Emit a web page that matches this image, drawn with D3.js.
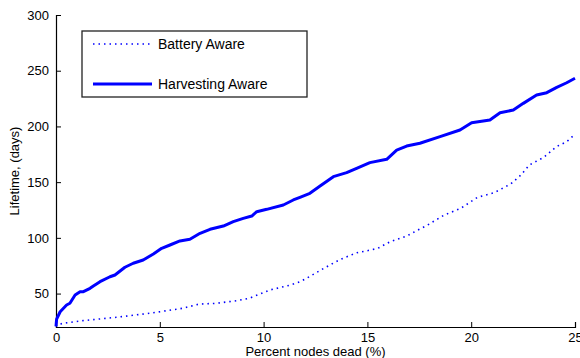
<!DOCTYPE html>
<html>
<head>
<meta charset="utf-8">
<script src="https://cdn.jsdelivr.net/npm/d3@7"></script>
<style>
  body { margin: 0; background: #fff; }
  text { font-family: "Liberation Sans", Arial, sans-serif; fill: #000; }
</style>
</head>
<body>
<script>
// percent nodes dead vs lifetime (days)
var harvestX = [0, 0.03, 0.2, 0.51, 0.67, 0.92, 1.16, 1.32, 1.64, 1.8, 2.12, 2.6, 2.84, 3.32, 3.72, 4.2, 4.69, 5.09, 5.49, 5.97, 6.45, 6.94, 7.42, 8.06, 8.54, 9.02, 9.43, 9.67, 10.15, 10.95, 11.43, 11.75, 12.23, 12.72, 13.36, 14.0, 14.48, 15.12, 15.93, 16.41, 16.89, 17.53, 18.5, 19.46, 20.02, 20.9, 21.39, 22.03, 22.51, 23.15, 23.64, 24.12, 24.6, 25.0];
var harvestY = [20.5, 27, 33.7, 39.7, 41.3, 48.7, 51.7, 51.7, 54.7, 56.8, 60.7, 65.1, 66.7, 73.6, 77.2, 80.1, 85.5, 90.6, 93.6, 97.2, 98.7, 104.1, 107.7, 110.6, 114.5, 117.5, 119.6, 123.5, 125.6, 129.5, 134, 136.4, 140, 146.5, 154.9, 158.5, 162.4, 167.5, 170.5, 178.8, 182.4, 184.9, 190.8, 196.8, 203.3, 205.8, 212.3, 214.7, 220.7, 228.2, 230.3, 235.1, 239.2, 243.2];

var batteryX = [0, 0.05, 0.4, 1.3, 2.9, 4.5, 6.1, 6.9, 7.7, 8.7, 9.3, 10.3, 11.3, 11.8, 12.2, 12.9, 13.7, 14.5, 15.0, 15.5, 16.1, 16.9, 17.5, 17.9, 18.7, 19.5, 20.3, 21.1, 21.9, 22.4, 22.8, 23.5, 24.1, 24.6, 24.9, 25.0];
var batteryY = [20.5, 22, 23.5, 25.7, 28.7, 32.3, 36.8, 40.6, 41.2, 43.6, 45.7, 53.2, 57.7, 61, 65.1, 72.7, 80.7, 86.7, 88.5, 90.6, 96.6, 101.7, 107.7, 111.5, 120.5, 126.5, 136.4, 140.5, 148.3, 156.4, 165.4, 172.3, 181.8, 186.3, 191.4, 192];

var xTicks = [0, 5, 10, 15, 20, 25];
var yTicks = [50, 100, 150, 200, 250, 300];
var seriesNames = ["Battery Aware", "Harvesting Aware"];

var width = 580, height = 358;
var margin = { top: 15, right: 5, bottom: 31, left: 56 };
var w = width - margin.left - margin.right;
var h = height - margin.top - margin.bottom;

var svg = d3.select("body").append("svg")
    .attr("width", width)
    .attr("height", height);

var g = svg.append("g")
    .attr("transform", "translate(" + margin.left + "," + margin.top + ")");

var x = d3.scaleLinear().domain([0, 25]).range([0, w]);
var y = d3.scaleLinear().domain([20, 300]).range([h, 0]);

// axes, matlab style ticks pointing inward
var xAxis = d3.axisBottom(x).tickValues(xTicks).tickSize(-5).tickPadding(6);
var yAxis = d3.axisLeft(y).tickValues(yTicks).tickSize(-5).tickPadding(7);

var gx = g.append("g")
    .attr("transform", "translate(0," + h + ")")
    .call(xAxis);
var gy = g.append("g").call(yAxis);

[gx, gy].forEach(function (a) {
    a.select(".domain").attr("stroke", "#000").attr("stroke-width", 1.2);
    a.selectAll(".tick line").attr("stroke", "#000");
    a.selectAll("text").style("font-size", "13px").style("font-family", "Liberation Sans, Arial, sans-serif");
});

var line = d3.line()
    .x(function (d) { return x(d[0]); })
    .y(function (d) { return y(d[1]); });

var battery = batteryX.map(function (v, i) { return [v, batteryY[i]]; });
var harvest = harvestX.map(function (v, i) { return [v, harvestY[i]]; });

g.append("path")
    .datum(battery)
    .attr("fill", "none")
    .attr("stroke", "#0000ff")
    .attr("stroke-width", 1.6)
    .attr("stroke-dasharray", "1.5,4")
    .attr("d", line);

g.append("path")
    .datum(harvest)
    .attr("fill", "none")
    .attr("stroke", "#0000ff")
    .attr("stroke-width", 3)
    .attr("stroke-linejoin", "round")
    .attr("d", line);

// legend
var lg = svg.append("g");
lg.append("rect")
    .attr("x", 82).attr("y", 31)
    .attr("width", 225).attr("height", 66)
    .attr("fill", "#fff")
    .attr("stroke", "#222")
    .attr("stroke-width", 1.3);

var legendRows = [
    { name: seriesNames[0], dash: "1.5,4", sw: 1.6, yy: 44 },
    { name: seriesNames[1], dash: null, sw: 3, yy: 84 }
];
legendRows.forEach(function (r) {
    lg.append("line")
        .attr("x1", 93).attr("x2", 152)
        .attr("y1", r.yy).attr("y2", r.yy)
        .attr("stroke", "#0000ff")
        .attr("stroke-width", r.sw)
        .attr("stroke-dasharray", r.dash);
    lg.append("text")
        .attr("x", 158).attr("y", r.yy + 5)
        .style("font-size", "14px")
        .text(r.name);
});

// axis labels
svg.append("text")
    .attr("x", margin.left + w / 2)
    .attr("y", 356)
    .attr("text-anchor", "middle")
    .style("font-size", "13px")
    .text("Percent nodes dead (%)");

svg.append("text")
    .attr("transform", "translate(19," + (margin.top + h / 2) + ") rotate(-90)")
    .attr("text-anchor", "middle")
    .style("font-size", "13px")
    .text("Lifetime, (days)");
</script>
</body>
</html>
